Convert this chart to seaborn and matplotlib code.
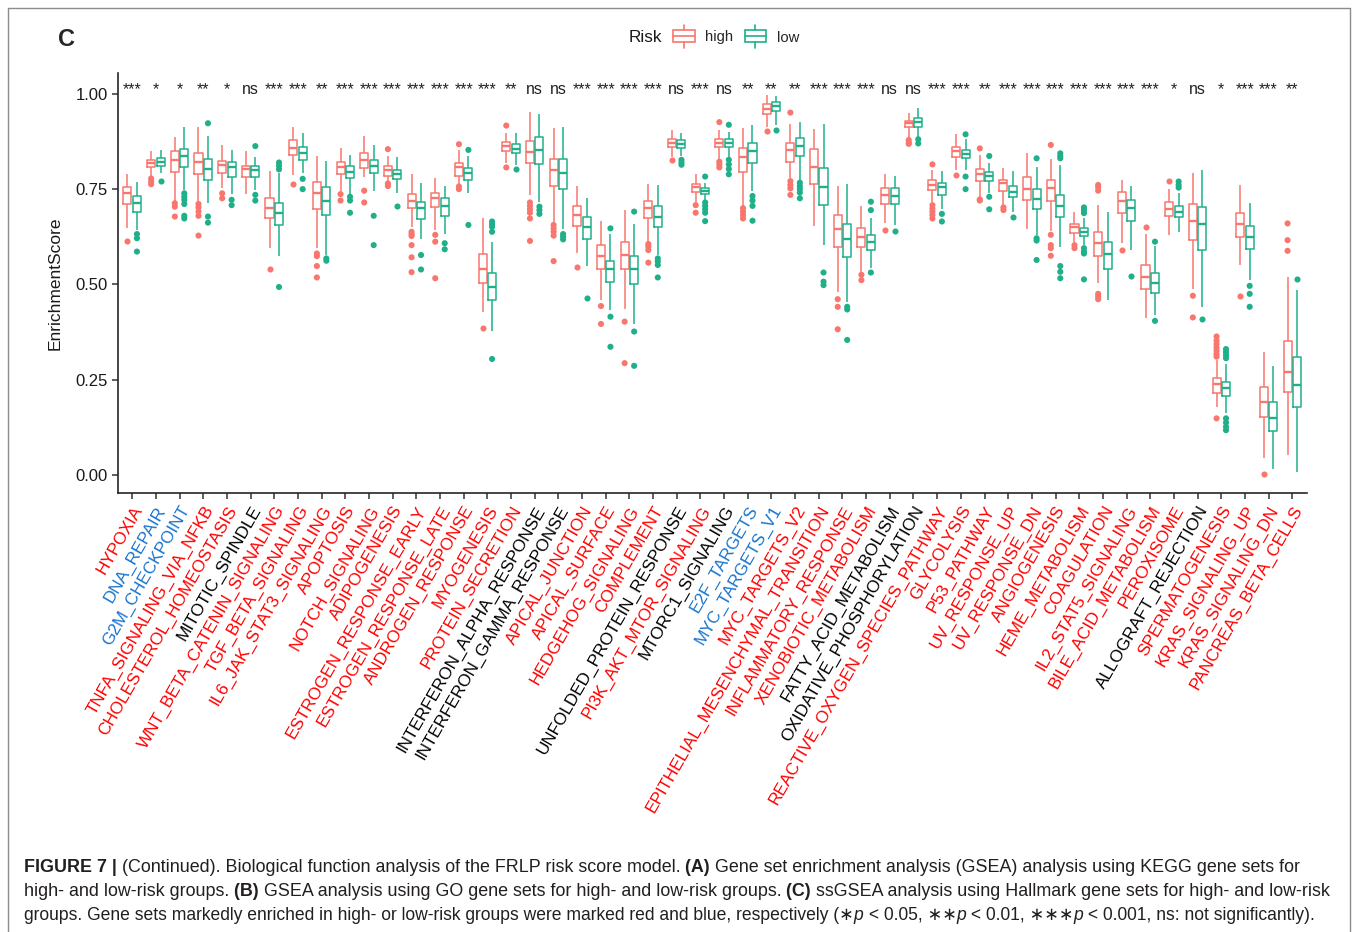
import numpy as np
import pandas as pd
import matplotlib
matplotlib.use("Agg")
import matplotlib.pyplot as plt
import seaborn as sns
from matplotlib.lines import Line2D
from matplotlib.patches import Patch, Rectangle
from matplotlib.legend_handler import HandlerBase

# Hallmark gene sets (x axis order) and significance labels
gene_sets = [
    "HYPOXIA", "DNA_REPAIR", "G2M_CHECKPOINT", "TNFA_SIGNALING_VIA_NFKB",
    "CHOLESTEROL_HOMEOSTASIS", "MITOTIC_SPINDLE", "WNT_BETA_CATENIN_SIGNALING",
    "TGF_BETA_SIGNALING", "IL6_JAK_STAT3_SIGNALING", "APOPTOSIS", "NOTCH_SIGNALING",
    "ADIPOGENESIS", "ESTROGEN_RESPONSE_EARLY", "ESTROGEN_RESPONSE_LATE",
    "ANDROGEN_RESPONSE", "MYOGENESIS", "PROTEIN_SECRETION",
    "INTERFERON_ALPHA_RESPONSE", "INTERFERON_GAMMA_RESPONSE", "APICAL_JUNCTION",
    "APICAL_SURFACE", "HEDGEHOG_SIGNALING", "COMPLEMENT",
    "UNFOLDED_PROTEIN_RESPONSE", "PI3K_AKT_MTOR_SIGNALING", "MTORC1_SIGNALING",
    "E2F_TARGETS", "MYC_TARGETS_V1", "MYC_TARGETS_V2",
    "EPITHELIAL_MESENCHYMAL_TRANSITION", "INFLAMMATORY_RESPONSE",
    "XENOBIOTIC_METABOLISM", "FATTY_ACID_METABOLISM", "OXIDATIVE_PHOSPHORYLATION",
    "REACTIVE_OXYGEN_SPECIES_PATHWAY", "GLYCOLYSIS", "P53_PATHWAY",
    "UV_RESPONSE_UP", "UV_RESPONSE_DN", "ANGIOGENESIS", "HEME_METABOLISM",
    "COAGULATION", "IL2_STAT5_SIGNALING", "BILE_ACID_METABOLISM", "PEROXISOME",
    "ALLOGRAFT_REJECTION", "SPERMATOGENESIS", "KRAS_SIGNALING_UP",
    "KRAS_SIGNALING_DN", "PANCREAS_BETA_CELLS",
]
significance = [
    "***", "*", "*", "**", "*", "ns", "***", "***", "**", "***",
    "***", "***", "***", "***", "***", "***", "**", "ns", "ns", "***",
    "***", "***", "***", "ns", "***", "ns", "**", "**", "**", "***",
    "***", "***", "ns", "ns", "***", "***", "**", "***", "***", "***",
    "***", "***", "***", "***", "*", "ns", "*", "***", "***", "**",
]
enriched_in_low = ["DNA_REPAIR", "G2M_CHECKPOINT", "E2F_TARGETS", "MYC_TARGETS_V1"]

# box statistics: whisker low, q1, median, q3, whisker high
high_lo = [0.647, 0.783, 0.717, 0.717, 0.752, 0.736, 0.595, 0.787, 0.595, 0.746,
           0.783, 0.770, 0.651, 0.644, 0.761, 0.428, 0.818, 0.735, 0.665, 0.581,
           0.459, 0.434, 0.612, 0.834, 0.717, 0.828, 0.706, 0.912, 0.778, 0.654,
           0.481, 0.533, 0.660, 0.884, 0.717, 0.800, 0.730, 0.706, 0.645, 0.641,
           0.612, 0.503, 0.608, 0.412, 0.630, 0.489, 0.179, 0.551, 0.045, 0.052]
high_q1 = [0.710, 0.807, 0.796, 0.790, 0.793, 0.781, 0.673, 0.840, 0.697, 0.789,
           0.805, 0.785, 0.700, 0.702, 0.785, 0.503, 0.850, 0.818, 0.759, 0.653,
           0.539, 0.540, 0.673, 0.860, 0.742, 0.860, 0.796, 0.947, 0.822, 0.763,
           0.599, 0.599, 0.711, 0.912, 0.748, 0.834, 0.772, 0.746, 0.722, 0.719,
           0.636, 0.575, 0.687, 0.489, 0.680, 0.616, 0.214, 0.625, 0.151, 0.216]
high_med = [0.739, 0.818, 0.827, 0.820, 0.813, 0.802, 0.701, 0.857, 0.739, 0.809,
            0.827, 0.800, 0.720, 0.726, 0.807, 0.539, 0.863, 0.847, 0.799, 0.682,
            0.574, 0.577, 0.701, 0.870, 0.755, 0.872, 0.835, 0.960, 0.853, 0.807,
            0.645, 0.625, 0.735, 0.923, 0.761, 0.849, 0.790, 0.765, 0.750, 0.752,
            0.651, 0.608, 0.720, 0.518, 0.697, 0.667, 0.237, 0.658, 0.192, 0.271]
high_q3 = [0.755, 0.827, 0.849, 0.844, 0.823, 0.811, 0.726, 0.879, 0.770, 0.822,
           0.844, 0.811, 0.737, 0.741, 0.818, 0.579, 0.875, 0.877, 0.829, 0.706,
           0.603, 0.612, 0.720, 0.881, 0.764, 0.882, 0.859, 0.973, 0.872, 0.855,
           0.682, 0.649, 0.752, 0.930, 0.774, 0.860, 0.804, 0.774, 0.783, 0.774,
           0.659, 0.637, 0.742, 0.551, 0.715, 0.711, 0.253, 0.687, 0.231, 0.352]
high_hi = [0.789, 0.850, 0.888, 0.914, 0.867, 0.849, 0.798, 0.914, 0.837, 0.859,
           0.890, 0.837, 0.790, 0.778, 0.853, 0.673, 0.897, 0.952, 0.910, 0.757,
           0.667, 0.695, 0.763, 0.905, 0.790, 0.905, 0.910, 0.997, 0.921, 0.907,
           0.757, 0.706, 0.790, 0.951, 0.800, 0.894, 0.840, 0.806, 0.844, 0.828,
           0.691, 0.708, 0.774, 0.631, 0.750, 0.793, 0.301, 0.761, 0.321, 0.520]

low_lo = [0.642, 0.792, 0.748, 0.713, 0.737, 0.748, 0.575, 0.792, 0.578, 0.737,
          0.746, 0.739, 0.618, 0.632, 0.739, 0.377, 0.813, 0.717, 0.645, 0.549,
          0.433, 0.396, 0.578, 0.836, 0.722, 0.834, 0.746, 0.919, 0.774, 0.602,
          0.454, 0.542, 0.656, 0.888, 0.697, 0.800, 0.739, 0.691, 0.630, 0.597,
          0.603, 0.459, 0.590, 0.419, 0.638, 0.440, 0.161, 0.511, 0.014, 0.008]
low_q1 = [0.691, 0.811, 0.807, 0.774, 0.781, 0.781, 0.656, 0.827, 0.682, 0.778,
          0.793, 0.776, 0.671, 0.680, 0.774, 0.459, 0.844, 0.816, 0.751, 0.618,
          0.507, 0.501, 0.651, 0.859, 0.736, 0.860, 0.818, 0.954, 0.837, 0.708,
          0.571, 0.590, 0.710, 0.914, 0.734, 0.831, 0.771, 0.729, 0.697, 0.678,
          0.627, 0.540, 0.667, 0.478, 0.676, 0.590, 0.207, 0.593, 0.115, 0.179]
low_med = [0.713, 0.822, 0.837, 0.802, 0.807, 0.799, 0.687, 0.844, 0.719, 0.796,
           0.811, 0.790, 0.700, 0.706, 0.792, 0.494, 0.856, 0.853, 0.792, 0.650,
           0.539, 0.539, 0.678, 0.869, 0.746, 0.872, 0.851, 0.968, 0.862, 0.755,
           0.619, 0.610, 0.732, 0.927, 0.755, 0.842, 0.785, 0.743, 0.723, 0.706,
           0.637, 0.579, 0.701, 0.504, 0.691, 0.658, 0.227, 0.625, 0.150, 0.236]
low_q3 = [0.732, 0.833, 0.856, 0.829, 0.820, 0.811, 0.713, 0.860, 0.755, 0.811,
          0.827, 0.800, 0.717, 0.726, 0.805, 0.531, 0.869, 0.886, 0.828, 0.676,
          0.561, 0.574, 0.706, 0.879, 0.752, 0.881, 0.870, 0.978, 0.884, 0.806,
          0.658, 0.630, 0.752, 0.936, 0.765, 0.853, 0.794, 0.759, 0.750, 0.735,
          0.647, 0.610, 0.722, 0.531, 0.707, 0.704, 0.244, 0.653, 0.190, 0.308]
low_hi = [0.770, 0.853, 0.912, 0.890, 0.853, 0.834, 0.792, 0.898, 0.824, 0.840,
          0.867, 0.834, 0.767, 0.759, 0.837, 0.612, 0.897, 0.947, 0.914, 0.726,
          0.632, 0.658, 0.761, 0.898, 0.767, 0.901, 0.919, 0.995, 0.926, 0.921,
          0.763, 0.673, 0.785, 0.962, 0.798, 0.881, 0.818, 0.798, 0.807, 0.814,
          0.673, 0.691, 0.758, 0.601, 0.741, 0.799, 0.292, 0.713, 0.285, 0.485]

# outlier points
high_outliers = [
    [0.615], [0.778, 0.770, 0.763], [0.713, 0.704, 0.678],
    [0.711, 0.702, 0.691, 0.680, 0.628], [0.739, 0.726], [], [0.539], [0.764],
    [0.581, 0.574, 0.548, 0.518], [0.737, 0.720], [0.746, 0.715],
    [0.855, 0.765, 0.758], [0.638, 0.632, 0.627, 0.603, 0.571, 0.532],
    [0.630, 0.612, 0.516], [0.868, 0.757, 0.750], [0.386], [0.917, 0.807],
    [0.715, 0.706, 0.697, 0.688, 0.673, 0.614], [0.656, 0.647, 0.638, 0.628, 0.561],
    [0.546], [0.443, 0.396], [0.402, 0.293], [0.606, 0.599, 0.590, 0.557], [0.827],
    [0.708, 0.688], [0.926, 0.822, 0.815, 0.807], [0.700, 0.691, 0.682, 0.673],
    [0.903], [0.951, 0.771, 0.761, 0.752, 0.735], [], [0.461, 0.441, 0.382],
    [0.525, 0.511], [0.644], [0.879, 0.872, 0.869],
    [0.815, 0.708, 0.699, 0.691, 0.682, 0.673], [0.787], [0.857, 0.723, 0.720],
    [0.702, 0.695], [], [0.866, 0.630, 0.603, 0.595, 0.575], [0.603, 0.595],
    [0.761, 0.755, 0.746, 0.475, 0.468, 0.461], [0.590], [0.651], [0.771],
    [0.470, 0.413], [0.363, 0.352, 0.343, 0.334, 0.326, 0.317, 0.310, 0.148],
    [0.470], [0.001], [0.660, 0.616, 0.588],
]
low_outliers = [
    [0.632, 0.621, 0.586], [0.772], [0.739, 0.730, 0.722, 0.711, 0.680, 0.673],
    [0.923, 0.678, 0.662], [0.722, 0.708], [0.863, 0.735, 0.720],
    [0.820, 0.811, 0.802, 0.493], [0.777, 0.750], [0.568, 0.562],
    [0.730, 0.720, 0.688], [0.680, 0.603], [0.706], [0.577, 0.539], [0.608, 0.592],
    [0.853, 0.656], [0.665, 0.658, 0.651, 0.638, 0.304], [0.802],
    [0.704, 0.695, 0.685], [0.632, 0.625, 0.618], [0.465], [0.647, 0.415, 0.336],
    [0.691, 0.376, 0.286], [0.568, 0.560, 0.551, 0.518], [0.827, 0.820, 0.814],
    [0.783, 0.715, 0.706, 0.697, 0.688, 0.666], [0.919, 0.827, 0.815, 0.803, 0.789],
    [0.732, 0.720, 0.706, 0.667], [0.904], [0.767, 0.758, 0.750, 0.741, 0.726],
    [0.531, 0.507, 0.498], [0.441, 0.434, 0.354], [0.717, 0.695, 0.531], [0.641],
    [0.881, 0.870], [0.685, 0.665], [0.894, 0.783, 0.750], [0.837, 0.730, 0.697],
    [0.676], [0.831, 0.621, 0.615, 0.564], [0.844, 0.837, 0.831, 0.548, 0.533, 0.516],
    [0.702, 0.695, 0.687, 0.595, 0.586, 0.581, 0.513], [], [0.523], [0.612, 0.404],
    [0.770, 0.761, 0.754], [0.408],
    [0.330, 0.322, 0.314, 0.306, 0.148, 0.137, 0.126, 0.117],
    [0.496, 0.475, 0.441], [], [0.514],
]

risk_levels = ["high", "low"]
palette = {"high": "#F8766D", "low": "#1FB08A"}

# long tables for seaborn
box_rows = []
out_rows = []
stats = {"high": (high_lo, high_q1, high_med, high_q3, high_hi),
         "low": (low_lo, low_q1, low_med, low_q3, low_hi)}
outs = {"high": high_outliers, "low": low_outliers}
for i, gs in enumerate(gene_sets):
    for risk in risk_levels:
        for arr in stats[risk]:
            box_rows.append((gs, risk, arr[i]))
        for v in outs[risk][i]:
            out_rows.append((gs, risk, v))
box_df = pd.DataFrame(box_rows, columns=["set", "Risk", "score"])
out_df = pd.DataFrame(out_rows, columns=["set", "Risk", "score"])

sns.set_style("ticks")
plt.rcParams["font.family"] = ["Liberation Sans", "DejaVu Sans"]
plt.rcParams["axes.linewidth"] = 1.2

W, H = 1354, 932
fig = plt.figure(figsize=(W / 100, H / 100), dpi=100)
ax = fig.add_axes([118 / W, 1 - 493 / H, (1306.5 - 118) / W, (493 - 73) / H])

sns.boxplot(data=box_df, x="set", y="score", hue="Risk", order=gene_sets,
            hue_order=risk_levels, palette=palette, fill=False, width=0.8,
            gap=0.15, whis=(0, 100), showfliers=False, showcaps=False,
            linewidth=1.1, medianprops={"linewidth": 1.7}, legend=False, ax=ax)
sns.stripplot(data=out_df, x="set", y="score", hue="Risk", order=gene_sets,
              hue_order=risk_levels, palette=palette, dodge=True, jitter=False,
              size=4.4, linewidth=0, legend=False, ax=ax)

ax.set_xlim(-0.6, len(gene_sets) - 0.4)
ax.set_ylim(-0.048, 1.055)
ax.set_yticks([0, 0.25, 0.5, 0.75, 1.0])
ax.set_yticklabels(["0.00", "0.25", "0.50", "0.75", "1.00"])
ax.set_xlabel("")
ax.set_ylabel("EnrichmentScore", fontsize=12.5, color="#1a1a1a")
ax.yaxis.set_label_coords(-0.047, 0.5)
ax.tick_params(axis="both", length=4.5, width=1.1, color="#333333",
               labelcolor="#1a1a1a", pad=3)
ax.tick_params(axis="y", labelsize=12)
ax.set_xticks(range(len(gene_sets)))
ax.set_xticklabels(gene_sets, rotation=60, ha="right", va="top",
                   rotation_mode="anchor", fontsize=12.3)
for lab, gs, sig in zip(ax.get_xticklabels(), gene_sets, significance):
    if sig == "ns":
        lab.set_color("black")
    elif gs in enriched_in_low:
        lab.set_color("#1874CD")
    else:
        lab.set_color("#FF0000")
for i, sig in enumerate(significance):
    ax.text(i, 1.0, sig, ha="center", va="baseline", fontsize=11.5, color="#222222")
sns.despine(ax=ax)


# legend with box-shaped keys
class BoxKey(HandlerBase):
    def create_artists(self, legend, orig_handle, xdescent, ydescent, width,
                       height, fontsize, trans):
        c = orig_handle.get_edgecolor()
        cx = width / 2 - xdescent
        cy = height / 2 - ydescent
        bh = height * 1.15
        rect = Rectangle((-xdescent, cy - bh / 2), width, bh, fill=False,
                         edgecolor=c, lw=1.2, transform=trans)
        med = Line2D([-xdescent, width - xdescent], [cy, cy], color=c, lw=1.2,
                     transform=trans)
        wt = Line2D([cx, cx], [cy + bh / 2, cy + bh / 2 + height * 0.55],
                    color=c, lw=1.2, transform=trans)
        wb = Line2D([cx, cx], [cy - bh / 2, cy - bh / 2 - height * 0.55],
                    color=c, lw=1.2, transform=trans)
        return [rect, med, wt, wb]


handles = [Patch(edgecolor=palette[r], facecolor="none", label=r) for r in risk_levels]
fig.legend(handles=handles, loc="center left", bbox_to_anchor=(673 / W, 1 - 37.5 / H),
           ncol=2, frameon=False, fontsize=10.7, handlelength=1.45,
           handletextpad=0.72, columnspacing=0.75, borderpad=0, borderaxespad=0,
           handler_map={Patch: BoxKey()})
fig.text(645 / W, 1 - 37.5 / H, "Risk", fontsize=12.3, ha="center", va="center",
         color="#1a1a1a")

# panel letter
fig.text(66.5 / W, 1 - 39.5 / H, "C", fontsize=17, fontweight="bold",
         ha="center", va="center")

# outer frame (open at the bottom)
frame_kw = dict(transform=fig.transFigure, color="#8c8c8c", lw=1.0)
fig.add_artist(Line2D([7.5 / W, 7.5 / W], [0, 1 - 8 / H], **frame_kw))
fig.add_artist(Line2D([7.5 / W, 1350 / W], [1 - 8 / H, 1 - 8 / H], **frame_kw))
fig.add_artist(Line2D([1350 / W, 1350 / W], [0, 1 - 8 / H], **frame_kw))

# caption
caption = [
    [("FIGURE 7 |", "b"),
     (" (Continued). Biological function analysis of the FRLP risk score model.", "n"),
     (" (A)", "b"),
     (" Gene set enrichment analysis (GSEA) analysis using KEGG gene sets for", "n")],
    [("high- and low-risk groups.", "n"), (" (B)", "b"),
     (" GSEA analysis using GO gene sets for high- and low-risk groups.", "n"),
     (" (C)", "b"),
     (" ssGSEA analysis using Hallmark gene sets for high- and low-risk", "n")],
    [("groups. Gene sets markedly enriched in high- or low-risk groups were marked "
      "red and blue, respectively (\u2217", "n"), ("p", "i"),
     (" < 0.05, \u2217\u2217", "n"), ("p", "i"), (" < 0.01, \u2217\u2217\u2217", "n"),
     ("p", "i"), (" < 0.001, ns: not significantly).", "n")],
]
caption_y = [867, 891, 915]
renderer = fig.canvas.get_renderer()


def draw_caption_line(pieces, y, size):
    x = 24 / W
    made = []
    for txt, style in pieces:
        t = fig.text(x, 1 - y / H, txt, fontsize=size, ha="left", va="center",
                     color="#231f20",
                     fontweight="bold" if style == "b" else "normal",
                     fontstyle="italic" if style == "i" else "normal")
        x += t.get_window_extent(renderer).width / fig.bbox.width
        made.append(t)
    return made, x * W - 24


def measure(pieces, y):
    made, width = draw_caption_line(pieces, y, 11)
    for t in made:
        t.remove()
    return width


cap_size = 11 * 1298 / measure(caption[1], caption_y[1])
last_size = min(cap_size, 11 * 1292 / measure(caption[2], caption_y[2]))
for k, (pieces, y) in enumerate(zip(caption, caption_y)):
    draw_caption_line(pieces, y, last_size if k == 2 else cap_size)

fig.savefig("out.png", dpi=100)
